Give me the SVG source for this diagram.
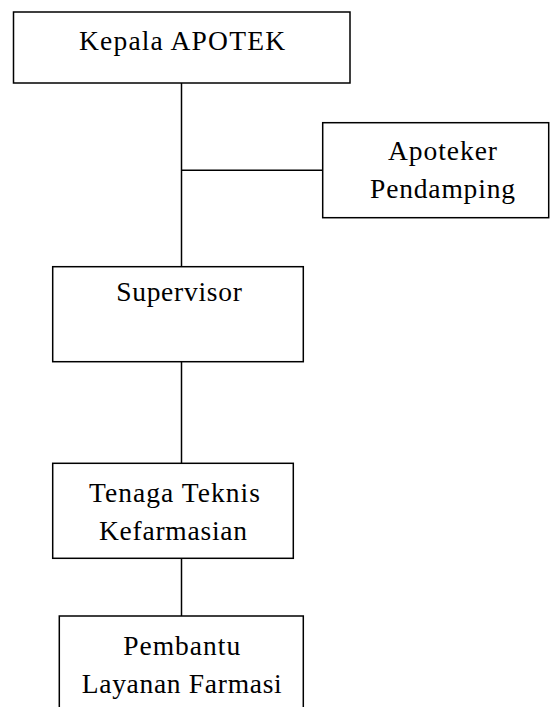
<svg xmlns="http://www.w3.org/2000/svg" width="550" height="707" viewBox="0 0 550 707">
<style>
.box{fill:#fff;stroke:#000;stroke-width:1.5}
.ln{stroke:#000;stroke-width:1.5;fill:none}
.t{font-family:'Liberation Serif','Times New Roman',Tinos,'DejaVu Serif',serif;font-size:27.5px;fill:#000;text-anchor:middle}
</style>
<rect width="550" height="707" fill="#fff"/>
<g id="connectors">
<line class="ln" x1="181.5" y1="83" x2="181.5" y2="266.7"/>
<line class="ln" x1="181.5" y1="170.3" x2="322.7" y2="170.3"/>
<line class="ln" x1="181.5" y1="361.7" x2="181.5" y2="463.3"/>
<line class="ln" x1="181.5" y1="558.3" x2="181.5" y2="616"/>
</g>
<g id="kepala">
<rect class="box" x="13.5" y="12" width="336.5" height="71"/>
<text class="t" x="182" y="50" textLength="206">Kepala APOTEK</text>
</g>
<g id="apoteker">
<rect class="box" x="322.7" y="122.7" width="226" height="95"/>
<text class="t" x="442.5" y="160" textLength="109">Apoteker</text>
<text class="t" x="442.5" y="198" textLength="145">Pendamping</text>
</g>
<g id="supervisor">
<rect class="box" x="52.7" y="266.7" width="250.6" height="95"/>
<text class="t" x="179" y="300.5" textLength="125.7">Supervisor</text>
</g>
<g id="tenaga">
<rect class="box" x="52.7" y="463.3" width="240.6" height="95"/>
<text class="t" x="174.5" y="501.7" textLength="171">Tenaga Teknis</text>
<text class="t" x="173" y="540" textLength="148">Kefarmasian</text>
</g>
<g id="pembantu">
<rect class="box" x="59.3" y="616" width="244" height="110"/>
<text class="t" x="181.7" y="655" textLength="117">Pembantu</text>
<text class="t" x="181.7" y="693" textLength="200">Layanan Farmasi</text>
</g>
</svg>
